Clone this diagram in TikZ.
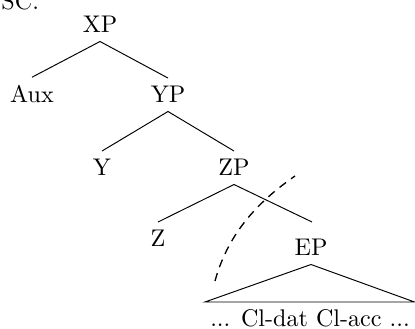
\documentclass[tikz,border=0pt]{standalone}
\begin{document}
\begin{tikzpicture}[x=0.415pt,y=-0.415pt,
  lab/.style={inner sep=3.33pt, anchor=base},
  edge/.style={draw=black, line width=0.4pt},
  dashedge/.style={draw=black, line width=0.55pt, dash pattern=on 3.4pt off 2.6pt}]
\useasboundingbox (0,0) rectangle (415,329);
\clip (0,0) rectangle (415,329);
\node[anchor=base west, inner sep=0pt] (sc) at (1,10) {SC.};
\node[lab] (XP) at (100,33) {XP};
\node[lab] (Aux) at (32,103) {Aux};
\node[lab] (YP) at (168,103) {YP};
\node[lab] (Y) at (102,176) {Y};
\node[lab] (ZP) at (234,176) {ZP};
\node[lab] (Z) at (158,247) {Z};
\node[lab] (EP) at (311,256) {EP};
\node[lab] (words) at (310,327) {... Cl-dat Cl-acc ...};
\coordinate (epTop) at (312,222);
\coordinate (roofL) at (205,302);
\coordinate (roofR) at (414.5,302);
\coordinate (dashA) at (215,281);
\coordinate (dashB) at (295,176);
\draw[edge] (XP.south) -- (Aux.north);
\draw[edge] (XP.south) -- (YP.north);
\draw[edge] (YP.south) -- (Y.north);
\draw[edge] (YP.south) -- (ZP.north);
\draw[edge] (ZP.south) -- (Z.north);
\draw[edge] (ZP.south) -- (epTop);
\draw[edge] (EP.south) -- (roofL) -- (roofR) -- cycle;
\draw[dashedge] (dashA) .. controls (229,230) and (262,199) .. (dashB);
\end{tikzpicture}
\end{document}
